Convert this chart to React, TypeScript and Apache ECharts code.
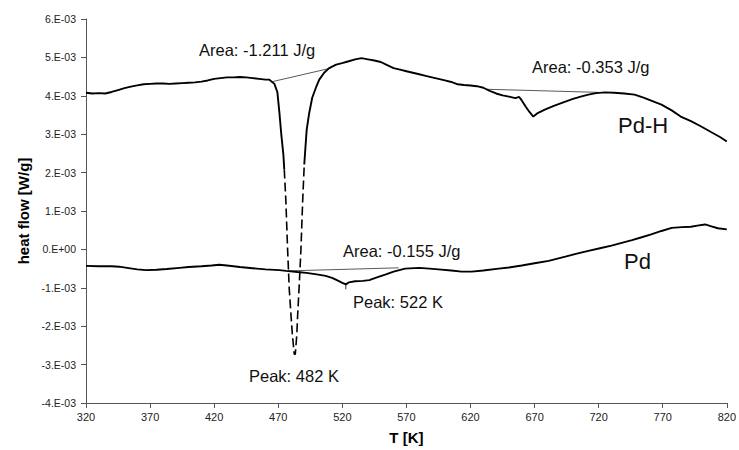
import React, { useEffect, useRef } from "react";
import * as echarts from "echarts";

// Axis ranges (temperature in K, heat flow in units of 1E-03 W/g)
const T_MIN = 320;
const T_MAX = 820;
const T_STEP = 50;
const HF_MIN = -4;
const HF_MAX = 6;
const HF_STEP = 1;

// Pd-H heating run: temperature [K]
const pdhT = [
  320, 325, 330, 335, 340, 345, 350, 355, 360, 365, 370, 375, 380, 385, 390, 395,
  400, 405, 410, 415, 420, 425, 430, 435, 440, 445, 450, 455, 460, 463.1, 467.0,
  469.3, 470.9, 472.4, 474.0, 474.7, 475.9, 477.3, 478.6, 480.0, 481.0, 482.1,
  482.5, 483.3, 484.5, 485.1, 486.4, 487.7, 489.1, 490.3, 491.1, 492.2, 494.2,
  496.5, 499.6, 502.0, 505.8, 509.7, 515.2, 519.8, 525, 530, 535, 540, 545, 550,
  555, 560, 565, 570, 575, 580, 585, 590, 595, 600, 605, 610, 615, 620, 625, 630,
  635, 640, 645, 650, 655, 658, 660, 663, 666, 669, 672, 678, 685, 694, 700, 706,
  712, 718, 725, 732, 740, 748, 755, 762, 769, 777, 784, 792, 800, 808, 815, 820,
];
// Pd-H heating run: heat flow [1E-03 W/g]
const pdhV = [
  4.08, 4.06, 4.07, 4.06, 4.1, 4.15, 4.2, 4.24, 4.27, 4.3, 4.31, 4.32, 4.32, 4.31,
  4.32, 4.33, 4.34, 4.35, 4.37, 4.4, 4.44, 4.46, 4.48, 4.48, 4.49, 4.48, 4.46, 4.44,
  4.42, 4.42, 4.31, 4.1, 3.56, 2.99, 2.47, 2.08, 1.3, 0, -1.04, -1.74, -2.21, -2.6,
  -2.73, -2.73, -2.21, -1.74, -0.91, 0, 1.3, 2.21, 2.6, 3.12, 3.56, 3.95, 4.23,
  4.42, 4.6, 4.72, 4.81, 4.85, 4.9, 4.95, 4.98, 4.95, 4.92, 4.88, 4.8, 4.72, 4.68,
  4.64, 4.6, 4.56, 4.52, 4.48, 4.44, 4.4, 4.36, 4.3, 4.28, 4.27, 4.25, 4.21, 4.13,
  4.06, 4.01, 3.98, 3.94, 3.97, 3.88, 3.72, 3.58, 3.46, 3.54, 3.64, 3.74, 3.85,
  3.92, 3.98, 4.03, 4.07, 4.09, 4.08, 4.06, 4.03, 3.95, 3.86, 3.77, 3.62, 3.46,
  3.34, 3.2, 3.05, 2.92, 2.81,
];
// The steep part of the Pd-H peak is drawn dashed between these temperatures
const PDH_DASH_FROM = 474.7;
const PDH_DASH_TO = 490.3;

// Pd reference run: temperature [K]
const pdT = [
  320, 330, 340, 346, 352, 360, 367, 375, 383, 393, 400, 410, 418, 424, 430, 440,
  450, 460, 471, 476, 485, 492, 500, 507, 512, 517, 520, 522.7, 525, 530, 536, 541,
  547, 554, 560, 569, 580, 588, 595, 605, 613, 621, 630, 642, 650, 660, 670, 681,
  694, 703, 712, 721, 730, 738, 746, 753, 761, 769, 777, 785, 792, 797, 803, 808,
  813, 820,
];
// Pd reference run: heat flow [1E-03 W/g]
const pdV = [
  -0.43, -0.44, -0.44, -0.45, -0.48, -0.52, -0.54, -0.53, -0.51, -0.48, -0.46,
  -0.44, -0.42, -0.4, -0.42, -0.46, -0.49, -0.52, -0.54, -0.56, -0.59, -0.61,
  -0.65, -0.69, -0.74, -0.82, -0.87, -0.91, -0.86, -0.83, -0.82, -0.8, -0.73,
  -0.65, -0.58, -0.5, -0.48, -0.5, -0.52, -0.55, -0.58, -0.58, -0.55, -0.5, -0.47,
  -0.42, -0.36, -0.3, -0.19, -0.11, -0.04, 0.03, 0.1, 0.17, 0.24, 0.31, 0.39, 0.48,
  0.56, 0.58, 0.59, 0.62, 0.65, 0.6, 0.55, 0.52,
];

// Integration baselines: [T start, HF start, T end, HF end]
const baselinePdH1 = [465.6, 4.37, 511.0, 4.72];
const baselinePdH2 = [632.8, 4.17, 719.7, 4.09];
const baselinePd = [477.3, -0.56, 564.0, -0.48];

// Peak marker on the Pd curve: [T, HF at peak, HF at tick end]
const peakPd = [522.7, -0.91, -1.04];

const FONT = "'Liberation Sans', Arial, Helvetica, sans-serif";

function pairs(t: number[], v: number[], keep: (x: number) => boolean) {
  const out: number[][] = [];
  for (let i = 0; i < t.length; i++) if (keep(t[i])) out.push([t[i], v[i]]);
  return out;
}

function formatHF(v: number) {
  const m = Math.round(v);
  if (m === 0) return "0.E+00";
  return `${m}.E-03`;
}

function thinLine(b: number[]) {
  return {
    type: "line",
    data: [
      [b[0], b[1]],
      [b[2], b[3]],
    ],
    symbol: "none",
    silent: true,
    lineStyle: { color: "#5a5a5a", width: 1 },
    z: 1,
  };
}

function note(text: string, x: number, y: number, size: number) {
  return {
    type: "text",
    x,
    y,
    silent: true,
    style: {
      text,
      fontSize: size,
      fontFamily: FONT,
      fill: "#111",
      align: "left",
      verticalAlign: "middle",
    },
  };
}

export default function App() {
  const ref = useRef<HTMLDivElement>(null);

  useEffect(() => {
    document.body.style.margin = "0";
    if (!ref.current) return;
    const chart = echarts.init(ref.current, undefined, { renderer: "svg" });

    const curve = { color: "#000", width: 1.9 };

    chart.setOption({
      animation: false,
      backgroundColor: "#fff",
      grid: { left: 86, right: 10, top: 19, bottom: 46, containLabel: false },
      xAxis: {
        type: "value",
        min: T_MIN,
        max: T_MAX,
        interval: T_STEP,
        name: "T [K]",
        nameLocation: "middle",
        nameGap: 27,
        nameTextStyle: { fontFamily: FONT, fontWeight: "bold", fontSize: 15, color: "#000" },
        axisLine: { onZero: false, lineStyle: { color: "#555", width: 1 } },
        axisTick: { show: true, inside: false, length: 5, lineStyle: { color: "#555" } },
        axisLabel: { fontFamily: FONT, fontSize: 11, color: "#222", margin: 8 },
        splitLine: { show: false },
      },
      yAxis: {
        type: "value",
        min: HF_MIN,
        max: HF_MAX,
        interval: HF_STEP,
        name: "heat flow [W/g]",
        nameLocation: "middle",
        nameGap: 55,
        nameTextStyle: { fontFamily: FONT, fontWeight: "bold", fontSize: 15, color: "#000" },
        axisLine: { show: true, onZero: false, lineStyle: { color: "#555", width: 1 } },
        axisTick: { show: true, inside: false, length: 5, lineStyle: { color: "#555" } },
        axisLabel: { fontFamily: FONT, fontSize: 10.5, color: "#222", margin: 10, formatter: formatHF },
        splitLine: { show: false },
      },
      series: [
        thinLine(baselinePdH1),
        thinLine(baselinePdH2),
        thinLine(baselinePd),
        {
          type: "line",
          data: [
            [peakPd[0], peakPd[1]],
            [peakPd[0], peakPd[2]],
          ],
          symbol: "none",
          silent: true,
          lineStyle: { color: "#333", width: 1 },
        },
        {
          type: "line",
          name: "Pd",
          data: pairs(pdT, pdV, () => true),
          symbol: "none",
          lineStyle: curve,
          z: 3,
        },
        {
          type: "line",
          name: "Pd-H",
          data: pairs(pdhT, pdhV, (t) => t <= PDH_DASH_FROM),
          symbol: "none",
          lineStyle: curve,
          z: 3,
        },
        {
          type: "line",
          name: "Pd-H",
          data: pairs(pdhT, pdhV, (t) => t >= PDH_DASH_FROM && t <= PDH_DASH_TO),
          symbol: "none",
          lineStyle: { color: "#000", width: 1.6, type: [9, 4] },
          z: 3,
        },
        {
          type: "line",
          name: "Pd-H",
          data: pairs(pdhT, pdhV, (t) => t >= PDH_DASH_TO),
          symbol: "none",
          lineStyle: curve,
          z: 3,
        },
      ],
      graphic: [
        note("Area: -1.211 J/g", 199, 50, 16.5),
        note("Area: -0.353 J/g", 532, 67, 16.5),
        note("Pd-H", 618, 125, 22),
        note("Area: -0.155 J/g", 343, 251, 16.5),
        note("Peak: 522 K", 353, 302, 16.5),
        note("Peak: 482 K", 249, 376, 16.5),
        note("Pd", 624, 261, 22),
      ],
    });

    return () => chart.dispose();
  }, []);

  return <div ref={ref} style={{ width: 739, height: 450 }} />;
}
